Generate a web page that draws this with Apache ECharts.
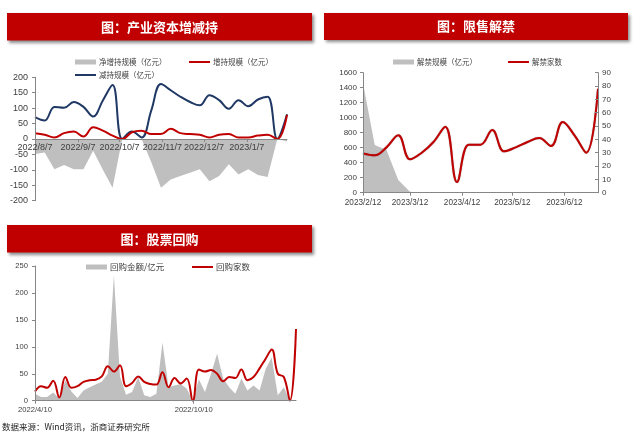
<!DOCTYPE html>
<html><head><meta charset="utf-8">
<script src="https://cdn.jsdelivr.net/npm/echarts@6/dist/echarts.min.js"></script>
<style>html,body{margin:0;padding:0;background:#fff}#c{width:640px;height:438px}</style>
</head><body><div id="c"></div>
<script>
// ---------- Panel 1: 产业资本增减持 (weekly) ----------
const p1Dates = ['2022/8/7','2022/8/14','2022/8/21','2022/8/28','2022/9/4','2022/9/11','2022/9/18','2022/9/25','2022/10/2','2022/10/9','2022/10/16','2022/10/23','2022/10/30','2022/11/6','2022/11/13','2022/11/20','2022/11/27','2022/12/4','2022/12/11','2022/12/18','2022/12/25','2023/1/1','2023/1/8','2023/1/15','2023/1/22','2023/1/29','2023/2/5'];
const p1Net = [-49,-44,-98,-84,-98,-98,-38,-100,-158,0,0,0,-75,-158,-131,-120,-109,-98,-137,-120,-82,-115,-98,-117,-123,0,-8];
const p1Inc = [19,14,5,19,24,8,38,27,11,0,22,27,16,16,33,19,16,14,5,14,16,5,5,11,14,0,78];
const p1Dec = [71,60,104,101,120,104,73,125,175,0,24,5,93,178,158,137,120,109,142,126,98,126,106,128,137,0,80];
const p1XLabels = ['2022/8/7','2022/9/7','2022/10/7','2022/11/7','2022/12/7','2023/1/7'];

// ---------- Panel 2: 限售解禁 (weekly) ----------
const p2Dates = ['2023/2/12','2023/2/19','2023/2/26','2023/3/5','2023/3/12','2023/3/19','2023/3/26','2023/4/2','2023/4/9','2023/4/16','2023/4/23','2023/4/30','2023/5/7','2023/5/14','2023/5/21','2023/5/28','2023/6/4','2023/6/11','2023/6/18','2023/6/25','2023/7/2'];
const p2Scale = [1460,636,570,170,12,0,0,0,0,0,0,0,0,0,0,0,0,0,0,0,0];
const p2Count = [29.5,28,34,43,25,30,38,49.5,8,36,36,47,31,34,38,41,35,53,43,30,78];
const p2XLabels = ['2023/2/12','2023/3/12','2023/4/12','2023/5/12','2023/6/12'];

// ---------- Panel 3: 股票回购 (weekly) ----------
const p3Dates = ['2022/4/10','2022/4/17','2022/4/24','2022/5/1','2022/5/8','2022/5/15','2022/5/22','2022/5/29','2022/6/5','2022/6/12','2022/6/19','2022/6/26','2022/7/3','2022/7/10','2022/7/17','2022/7/24','2022/7/31','2022/8/7','2022/8/14','2022/8/21','2022/8/28','2022/9/4','2022/9/11','2022/9/18','2022/9/25','2022/10/2','2022/10/9','2022/10/16','2022/10/23','2022/10/30','2022/11/6','2022/11/13','2022/11/20','2022/11/27','2022/12/4','2022/12/11','2022/12/18','2022/12/25','2023/1/1','2023/1/8','2023/1/15','2023/1/22','2023/1/29','2023/2/5'];
const p3Amount = [13,7,7,15,4,38,17,5,19,25,30,35,50,233,45,11,16,44,10,7,13,108,25,28,31,22,0,40,16,50,87,41,25,13,41,19,28,19,59,80,10,25,0,0];
const p3Count = [17,27,24,37,6,44,24,27,35,38,39,45,64,54,66,27,33,45,35,31,30,53,25,42,32,41,0,58,54,57,50,36,44,42,58,38,44,60,78,95,50,44,0,133];
const p3XLabels = ['2022/4/10','2022/10/10'];

const TS = s => { const [y,m,d] = s.split('/').map(Number); return Date.UTC(y, m-1, d); };
const fmt = v => { const d = new Date(v); return d.getUTCFullYear() + '/' + (d.getUTCMonth()+1) + '/' + d.getUTCDate(); };
const pairs = (dates, vals) => dates.map((d,i) => [TS(d), vals[i]]);

const AX = '#868686', TXT = '#404040', RED = '#C00000', NAVY = '#1F3864', GREY = '#BFBFBF';
const NUMF = 'Liberation Sans, Arial, sans-serif';
const CJK = 'Noto Sans CJK SC, sans-serif';

function xAx(grid, dates, labels, fs, margin, offset) {
  const cv = labels.map(TS);
  return {
    type: 'value', gridIndex: grid, position: 'bottom', offset: offset || 0, z: 10,
    min: TS(dates[0]), max: TS(dates[dates.length-1]),
    splitLine: {show:false},
    axisLine: {show:true, onZero:false, lineStyle:{color:AX, width:1}},
    axisTick: {show:true, customValues: cv, length:3, lineStyle:{color:AX}},
    axisLabel: {customValues: cv, formatter: fmt, color: TXT, fontSize: fs, fontFamily: NUMF, margin: margin, hideOverlap:false, showMinLabel:true, showMaxLabel:true}
  };
}
function yAx(grid, min, max, interval, fs, margin, pos, inside) {
  return {
    type: 'value', gridIndex: grid, min, max, interval, position: pos || 'left', z: 10,
    splitLine: {show:false},
    axisLine: {show:true, onZero:false, lineStyle:{color:AX, width:1}},
    axisTick: {show:true, length:3, inside: !!inside, lineStyle:{color:AX}},
    axisLabel: {color: TXT, fontSize: fs, fontFamily: NUMF, margin: margin, formatter: v => String(v)}
  };
}

function banner(x, y, w, h, text) {
  return [
    {type:'rect', shape:{x, y, width:w, height:h}, style:{fill:RED, shadowBlur:3, shadowOffsetX:2, shadowOffsetY:2, shadowColor:'rgba(0,0,0,0.45)'}, z:10},
    {type:'text', x: x + w/2, y: y + h/2, style:{text, fill:'#fff', font:'bold 13px ' + CJK, align:'center', verticalAlign:'middle'}, z:11}
  ];
}
function legendItem(x, y, color, thick, text, fs) {
  return [
    {type:'rect', shape:{x, y: y - thick/2, width:21, height:thick}, style:{fill:color}, z:10},
    {type:'text', x: x + 24, y, style:{text, fill:TXT, font: fs + 'px ' + CJK, verticalAlign:'middle'}, z:10}
  ];
}

const chart = echarts.init(document.getElementById('c'), null, {renderer:'canvas'});
chart.setOption({
  animation: false,
  backgroundColor: '#fff',
  grid: [
    {left:35, top:77.3, width:252, height:123.4},
    {left:363, top:72.7, width:235, height:120},
    {left:35, top:266, width:261, height:134.7}
  ],
  xAxis: [
    xAx(0, p1Dates, p1XLabels, 9, 4, -61.7),
    xAx(1, p2Dates, p2XLabels, 8.2, 6),
    xAx(2, p3Dates, p3XLabels, 7.6, 5)
  ],
  yAxis: [
    yAx(0, -200, 200, 50, 9, 7),
    yAx(1, 0, 1600, 200, 8, 6),
    yAx(1, 0, 90, 10, 8, 4, 'right', true),
    yAx(2, 0, 250, 50, 7.6, 7)
  ],
  series: [
    {name:'净增持规模（亿元）', type:'line', xAxisIndex:0, yAxisIndex:0, data: pairs(p1Dates, p1Net), showSymbol:false, lineStyle:{width:0}, itemStyle:{color:GREY}, areaStyle:{color:GREY, opacity:1}, z:1},
    {name:'增持规模（亿元）', type:'line', xAxisIndex:0, yAxisIndex:0, data: pairs(p1Dates, p1Inc), showSymbol:false, smooth:0.4, lineStyle:{color:RED, width:2}, itemStyle:{color:RED}, z:3},
    {name:'减持规模（亿元）', type:'line', xAxisIndex:0, yAxisIndex:0, data: pairs(p1Dates, p1Dec), showSymbol:false, smooth:0.4, lineStyle:{color:NAVY, width:2}, itemStyle:{color:NAVY}, z:2},

    {name:'解禁规模（亿元）', type:'line', xAxisIndex:1, yAxisIndex:1, data: pairs(p2Dates, p2Scale), showSymbol:false, lineStyle:{width:0}, itemStyle:{color:GREY}, areaStyle:{color:GREY, opacity:1}, z:1},
    {name:'解禁家数', type:'line', xAxisIndex:1, yAxisIndex:2, data: pairs(p2Dates, p2Count), showSymbol:false, smooth:0.4, lineStyle:{color:RED, width:2, shadowColor:'rgba(60,0,0,0.5)', shadowBlur:1}, itemStyle:{color:RED}, z:3},

    {name:'回购金额/亿元', type:'line', xAxisIndex:2, yAxisIndex:3, data: pairs(p3Dates, p3Amount), showSymbol:false, lineStyle:{width:0}, itemStyle:{color:GREY}, areaStyle:{color:GREY, opacity:1}, z:1},
    {name:'回购家数', type:'line', xAxisIndex:2, yAxisIndex:3, data: pairs(p3Dates, p3Count), showSymbol:false, smooth:0.4, lineStyle:{color:RED, width:2}, itemStyle:{color:RED}, z:3}
  ],
  graphic: [].concat(
    banner(7, 13, 305, 27.5, '图：产业资本增减持'),
    banner(324, 13, 304, 27, '图：限售解禁'),
    banner(7, 225, 305, 27.5, '图：股票回购'),
    legendItem(75, 62, GREY, 5, '净增持规模（亿元）', 7.5),
    legendItem(189, 62, RED, 2, '增持规模（亿元）', 7.5),
    legendItem(75, 75, NAVY, 2, '减持规模（亿元）', 7.5),
    legendItem(393, 62, GREY, 5, '解禁规模（亿元）', 7.5),
    legendItem(508, 62, RED, 2, '解禁家数', 7.5),
    legendItem(86, 267, GREY, 5, '回购金额/亿元', 8.5),
    legendItem(192, 267, RED, 2, '回购家数', 8.5),
    [{type:'text', x:2, y:427, style:{text:'数据来源：Wind资讯，浙商证券研究所', fill:'#222', font:'8.5px ' + CJK, verticalAlign:'middle'}, z:10}]
  )
});
</script></body></html>
